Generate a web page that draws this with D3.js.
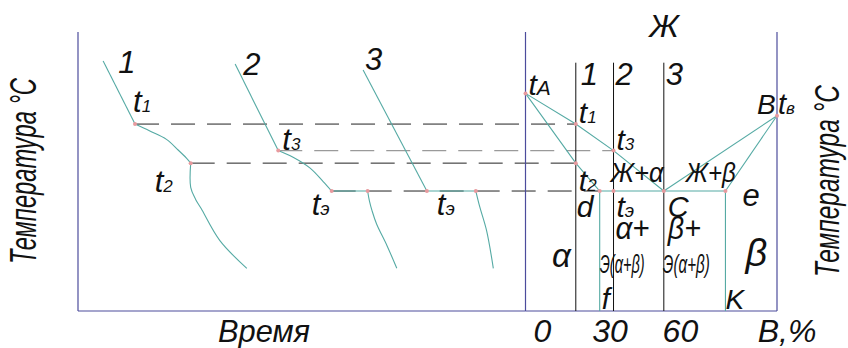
<!DOCTYPE html>
<html>
<head>
<meta charset="utf-8">
<script src="https://cdn.jsdelivr.net/npm/d3@7"></script>
<style>
  html, body { margin: 0; padding: 0; background: #fff; }
  svg text { font-family: 'Liberation Sans', Arimo, 'DejaVu Sans', sans-serif; font-style: italic; fill: #111; }
</style>
</head>
<body>
<svg id="chart" width="848" height="348"></svg>
<script>
// ---- Data -------------------------------------------------------------
// Compositions of the three alloys, % B
const alloys = [20, 35, 55];
const alloyNames = ["1", "2", "3"];
// Composition axis labels
const compTickValues = [0, 30, 60, 100];
const compTickLabels = ["0", "30", "60", "В,%"];

// Characteristic temperatures
const tMeltA = 780, tMeltB = 700, tEut = 430;
const tTop = 1000;

// Phase diagram lines: [composition %, temperature]
const liquidusA = [[0, 780], [20, 670], [35, 575], [55, 430]];
const solidusA  = [[0, 780], [20, 530], [29.5, 430]];
const liquidusB = [[100, 700], [55, 430]];
const solidusB  = [[100, 700], [79.5, 430]];
const solvusA   = [[29.5, 430], [29.5, 0]];
const solvusB   = [[79.5, 430], [79.5, 0]];
const eutectic  = [[29.5, 430], [79.5, 430]];
const phasePoints = [[0, 780], [20, 670], [35, 575], [20, 530], [29.5, 430], [35, 430], [55, 430], [79.5, 430], [100, 700]];

// Cooling curves: segments of [time, temperature]
const curve1 = [
  [[5.6, 896], [12.7, 670]],
  [[12.7, 670], [16.0, 645], [19.7, 615], [22.3, 577], [24.2, 547], [25.1, 530]],
  [[25.1, 530], [25.1, 443], [26.2, 400], [27.4, 368], [31.6, 252], [37.6, 153]]
];
const curve2 = [
  [[35.0, 885], [44.6, 575]],
  [[44.6, 575], [47.9, 551], [51.7, 512], [54.6, 464], [56.5, 430]],
  [[56.5, 430], [64.5, 430]],
  [[64.5, 430], [64.9, 395], [65.5, 359], [66.5, 312], [68.8, 235], [71.0, 153]]
];
const curve3 = [
  [[63.5, 864], [77.7, 430]],
  [[77.7, 430], [88.6, 430]],
  [[88.6, 430], [89.5, 372], [91.0, 288], [92.5, 153]]
];
const curvePoints = [[12.7, 670], [25.1, 530], [44.6, 575], [56.5, 430], [64.5, 430], [77.7, 430], [88.6, 430]];

// Projection lines: from a cooling-curve time to a composition at one temperature
const guides = [
  { temp: 670, time: 12.7, comp: 20, tone: "dark" },
  { temp: 575, time: 44.6, comp: 35, tone: "grey" },
  { temp: 530, time: 25.1, comp: 20, tone: "dark" },
  { temp: 430, time: 56.5, comp: 29.5, tone: "dark" }
];

// ---- Layout -----------------------------------------------------------
const svg = d3.select("#chart");
const axisColor = "#4c4c9c";
const curveColor = "#55aaa4";
const dotColor = "#e89a9e";

const y = d3.scaleLinear().domain([0, tTop]).range([311, 32]);
const xTime = d3.scaleLinear().domain([0, 100]).range([78, 527]);
const xComp = d3.scaleLinear().domain([0, 100]).range([525.5, 777]);

const lineComp = d3.line().x(d => xComp(d[0])).y(d => y(d[1]));
const lineTime = d3.line().x(d => xTime(d[0])).y(d => y(d[1])).curve(d3.curveCatmullRom.alpha(0.5));

// ---- Projection guides -------------------------------------------------
svg.append("g").selectAll("line").data(guides).join("line")
  .attr("x1", d => xTime(d.time)).attr("x2", d => xComp(d.comp))
  .attr("y1", d => y(d.temp)).attr("y2", d => y(d.temp))
  .attr("stroke", d => d.tone === "grey" ? "#9a9a9a" : "#222")
  .attr("stroke-width", d => d.tone === "grey" ? 1.3 : 1)
  .attr("stroke-dasharray", "24,12");

// ---- Frames ------------------------------------------------------------
const frame = svg.append("g").attr("stroke", axisColor).attr("stroke-width", 1.2).attr("fill", "none");
frame.append("line").attr("x1", xTime(0)).attr("x2", xTime(0)).attr("y1", y(tTop)).attr("y2", y(0));
frame.append("line").attr("x1", xTime(0)).attr("x2", xComp(0)).attr("y1", y(0)).attr("y2", y(0));
frame.append("line").attr("x1", xComp(0)).attr("x2", xComp(0)).attr("y1", y(tTop)).attr("y2", y(0));
frame.append("line").attr("x1", xComp(100)).attr("x2", xComp(100)).attr("y1", y(tTop)).attr("y2", y(0));
frame.append("line").attr("x1", xComp(0)).attr("x2", xComp(100)).attr("y1", y(0)).attr("y2", y(0));

// alloy verticals
svg.append("g").selectAll("line").data(alloys).join("line")
  .attr("x1", d => xComp(d)).attr("x2", d => xComp(d))
  .attr("y1", y(890)).attr("y2", y(0))
  .attr("stroke", "#111").attr("stroke-width", 1);

// ---- Phase diagram -----------------------------------------------------
const pd = svg.append("g").attr("fill", "none").attr("stroke", curveColor).attr("stroke-width", 1.1);
[liquidusA, solidusA, liquidusB, solidusB, solvusA, solvusB, eutectic].forEach(d => {
  pd.append("path").attr("d", lineComp(d));
});

// ---- Cooling curves ----------------------------------------------------
const cc = svg.append("g").attr("fill", "none").attr("stroke", curveColor).attr("stroke-width", 1.1);
[curve1, curve2, curve3].forEach(curve => {
  curve.forEach(seg => cc.append("path").attr("d", lineTime(seg)));
});

// ---- Points ------------------------------------------------------------
svg.append("g").selectAll("circle").data(phasePoints).join("circle")
  .attr("cx", d => xComp(d[0])).attr("cy", d => y(d[1])).attr("r", 2).attr("fill", dotColor);
svg.append("g").selectAll("circle").data(curvePoints).join("circle")
  .attr("cx", d => xTime(d[0])).attr("cy", d => y(d[1])).attr("r", 2).attr("fill", dotColor);

// ---- Text --------------------------------------------------------------
// Narrow a text horizontally (along its baseline) so that it spans `width` px.
function narrow(t, x, yy, width, angle) {
  const w = t.node().getComputedTextLength();
  const k = w > 0 ? width / w : 1;
  t.attr("x", 0).attr("y", 0)
   .attr("transform", `translate(${x},${yy}) rotate(${angle || 0}) scale(${k},1)`);
  return t;
}

function label(x, yy, main, sub, size, subSize, width) {
  const t = svg.append("text").attr("x", x).attr("y", yy).style("font-size", size + "px");
  t.append("tspan").text(main);
  if (sub) t.append("tspan").style("font-size", (subSize || size * 0.6) + "px").text(sub);
  if (width) narrow(t, x, yy, width);
  return t;
}

// curve numbers above the cooling curves
const curveTops = [curve1[0][0], curve2[0][0], curve3[0][0]];
alloyNames.forEach((n, i) => {
  const p = curveTops[i];
  label(xTime(p[0]) + [15, 8, 2][i], y(p[1]) + [12, 11, 0][i], n, null, 31);
});
// curve numbers above the alloy verticals
alloyNames.forEach((n, i) => {
  label(xComp(alloys[i]) + [5, 2, 2][i], 85, n, null, 31);
});

// cooling curve labels
label(xTime(12.7) - 2, y(670) - 12, "t", "1", 31, 17);
label(xTime(25.1) - 36, y(530) + 29, "t", "2", 31, 17);
label(xTime(44.6) + 4, y(575) - 1, "t", "3", 31, 17);
label(xTime(56.5) - 20, y(430) + 24, "t", "э", 31, 19);
label(xTime(77.7) + 10, y(430) + 24, "t", "э", 31, 19);

// phase diagram labels
svg.append("text").attr("x", xComp(55)).attr("y", 37).attr("text-anchor", "middle").style("font-size", "32px").text("Ж");
label(xComp(0) + 3, y(780) + 2, "t", "A", 30, 21);
label(xComp(20) + 3, y(670) - 1, "t", "1", 30, 17);
label(xComp(35) + 3, y(575) - 1, "t", "3", 30, 17);
label(xComp(20) + 3, y(430), "t", "2", 30, 17);
label(xComp(35) - 3, y(430) - 9, "Ж+α", null, 28, null, 53);
label(xComp(55) + 22, y(430) - 9, "Ж+β", null, 28, null, 50);
label(xComp(20) + 1, y(430) + 26, "d", null, 30);
label(xComp(35) + 3, y(430) + 26, "t", "э", 30, 19);
label(xComp(55) + 4, y(430) + 26, "C", null, 29);
label(xComp(79.5) + 17, y(430) + 15, "e", null, 31);
label(xComp(35) + 2, y(430) + 48, "α+", null, 31, null, 34);
label(xComp(55) + 4, y(430) + 48, "β+", null, 31, null, 33);
label(xComp(10.5), y(430) + 76, "α", null, 33);
label(xComp(29.5), y(430) + 82, "Э(α+β)", null, 26, null, 45);
label(xComp(55) - 1, y(430) + 82, "Э(α+β)", null, 26, null, 47);
label(xComp(87.5), y(430) + 75, "β", null, 38);
label(xComp(29.5) + 2, y(0) - 2, "f", null, 29);
label(xComp(79.5), y(0) - 2, "K", null, 28);
label(xComp(100) - 20, y(700) - 2, "В", null, 28);
label(xComp(100) + 1, y(700) - 2, "t", "в", 29, 17);

// composition axis labels
svg.append("g").selectAll("text").data(compTickValues).join("text")
  .attr("x", (d, i) => xComp(d) + [17, 9, 4, 10][i])
  .attr("y", 342).attr("text-anchor", "middle").style("font-size", "32px")
  .text((d, i) => compTickLabels[i]);

// axis titles
const timeTitle = svg.append("text").attr("text-anchor", "middle").style("font-size", "32px").text("Время");
narrow(timeTitle, 264, 342, 92);
const tempLeft = svg.append("text").attr("text-anchor", "middle").style("font-size", "36px").text("Температура °С");
narrow(tempLeft, 36, 171, 186, -90);
const tempRight = svg.append("text").attr("text-anchor", "middle").style("font-size", "36px").text("Температура °С");
narrow(tempRight, 839, 181, 192, -90);
</script>
</body>
</html>
